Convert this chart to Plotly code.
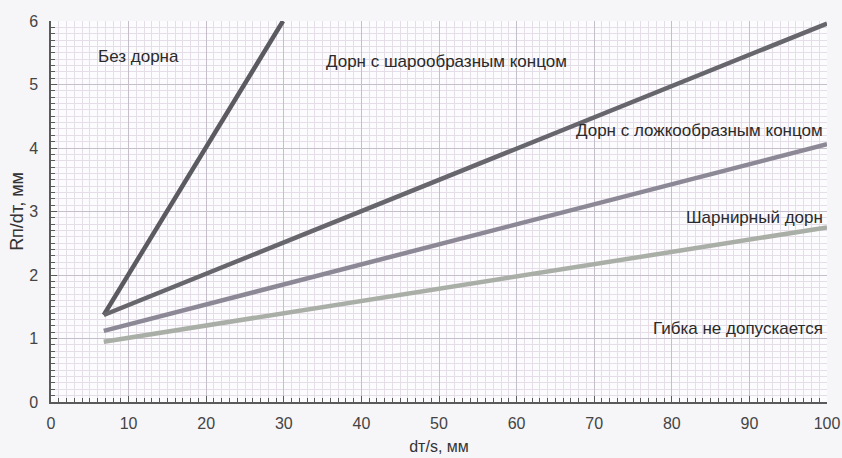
import plotly.graph_objects as go

# Data (x = dт/s, y = Rп/dт)
x_bez = [6.8, 29.9]
y_bez = [1.37, 6.0]
x_shar = [6.8, 100]
y_shar = [1.37, 5.96]
x_lozh = [6.8, 100]
y_lozh = [1.12, 4.06]
x_sharn = [6.8, 100]
y_sharn = [0.95, 2.75]

labels = ["Без дорна", "Дорн с шарообразным концом", "Дорн с ложкообразным концом",
          "Шарнирный дорн", "Гибка не допускается"]

x_ticks = [0, 10, 20, 30, 40, 50, 60, 70, 80, 90, 100]
y_ticks = [0, 1, 2, 3, 4, 5, 6]

FONT = "Liberation Sans, Arial, sans-serif"

fig = go.Figure()
series = [
    (x_bez, y_bez, "#5a5a60"),
    (x_shar, y_shar, "#67666d"),
    (x_lozh, y_lozh, "#8d8896"),
    (x_sharn, y_sharn, "#a9aea6"),
]
for xs, ys, c in series:
    fig.add_trace(go.Scatter(x=xs, y=ys, mode="lines",
                             line=dict(color=c, width=4.5),
                             showlegend=False, hoverinfo="skip"))

# annotations (data coords)
ann = [
    (labels[0], 11.3, 5.44, "center"),
    (labels[1], 51.0, 5.36, "center"),
    (labels[2], 99.8, 4.27, "right"),
    (labels[3], 99.8, 2.91, "right"),
    (labels[4], 99.8, 1.15, "right"),
]
for t, xa, ya, al in ann:
    fig.add_annotation(x=xa, y=ya, text=t, showarrow=False, xanchor=al,
                       yanchor="middle",
                       font=dict(family=FONT, size=17, color="#2a2a2a"))

axis_common = dict(
    showline=True, linecolor="#5a5a5a", linewidth=1.5,
    ticks="inside", ticklen=6, tickcolor="#5a5a5a", tickwidth=1,
    showgrid=True, gridcolor="#c4bfcb", gridwidth=1,
    zeroline=False, mirror=False, automargin=False,
    ticklabeloverflow="allow",
    tickfont=dict(family=FONT, size=16, color="#444444"),
)

fig.update_xaxes(range=[0, 100], tickvals=x_ticks, ticktext=[str(v) for v in x_ticks],
                 minor=dict(dtick=1, ticks="inside", ticklen=4, tickcolor="#5a5a5a",
                            showgrid=True, gridcolor="#e5dde8", gridwidth=1),
                 title=dict(text="dт/s, мм", standoff=10,
                            font=dict(family=FONT, size=16, color="#333333")),
                 ticklabelstandoff=6,
                 **axis_common)
fig.update_yaxes(range=[0, 6], tickvals=y_ticks, ticktext=[str(v) for v in y_ticks],
                 minor=dict(dtick=0.1, ticks="inside", ticklen=4, tickcolor="#5a5a5a",
                            showgrid=True, gridcolor="#e5dde8", gridwidth=1),
                 title=dict(text="Rп/dт, мм", standoff=1,
                            font=dict(family=FONT, size=18, color="#333333")),
                 ticklabelstandoff=8,
                 **axis_common)

fig.update_layout(
    width=842, height=458,
    margin=dict(l=51, r=15, t=21, b=56),
    paper_bgcolor="#f6f5f8",
    plot_bgcolor="#fcfbfd",
)

fig.write_html("out.html", config={"displayModeBar": False},
               post_script="document.body.style.margin='0';document.body.style.overflow='hidden';")
